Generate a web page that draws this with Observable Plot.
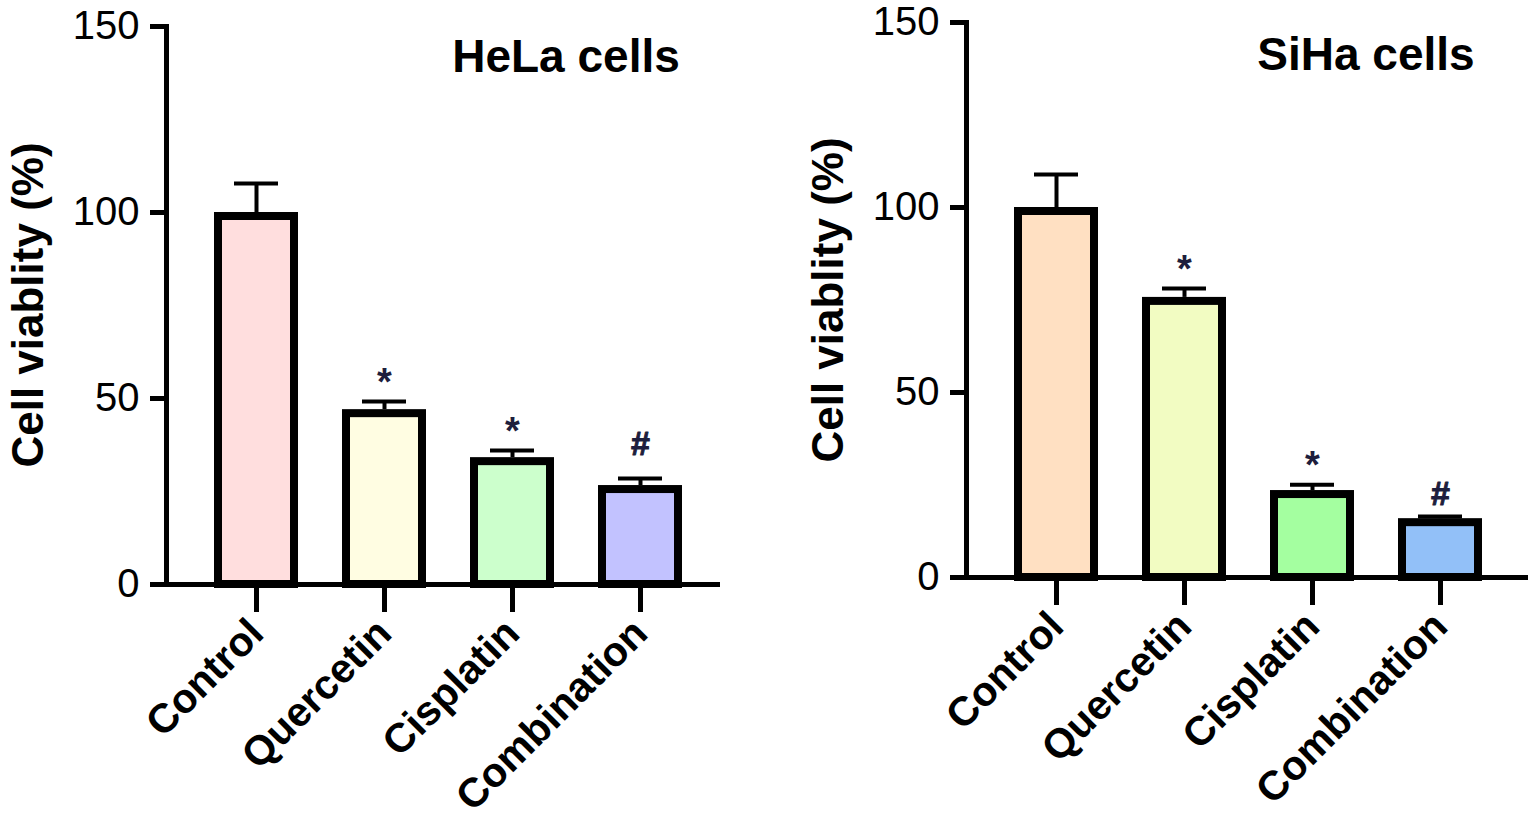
<!DOCTYPE html>
<html>
<head>
<meta charset="utf-8">
<script src="https://cdn.jsdelivr.net/npm/d3@7"></script>
<script src="https://cdn.jsdelivr.net/npm/@observablehq/plot@0.6"></script>
<style>
  html, body { margin: 0; padding: 0; background: #fff; }
  #wrap { position: relative; width: 1535px; height: 825px; overflow: hidden; font-family: 'Liberation Sans', Arial, sans-serif; }
  .panel { position: absolute; top: 0; }
  .title { position: absolute; font-weight: bold; font-size: 46px; line-height: 46px; white-space: nowrap; color: #000; transform: translateX(-50%); }
  .ylab { position: absolute; font-weight: bold; font-size: 44px; line-height: 44px; white-space: nowrap; color: #000; transform: translate(-50%, -50%) rotate(-90deg); }
</style>
</head>
<body>
<div id="wrap"></div>
<script>
// ---- data ----
const categories = ["Control", "Quercetin", "Cisplatin", "Combination"];
const helaMean = [100, 47.0, 34.1, 26.6];
const helaSD   = [7.8, 2.2, 1.9, 1.9];
const sihaMean = [100, 75.7, 23.5, 15.9];
const sihaSD   = [8.9, 2.4, 1.6, 0.6];
const notes    = ["", "*", "*", "#"];
const helaColors = ["#FFDEDE", "#FFFDE2", "#CCFFCC", "#C2C2FF"];
const sihaColors = ["#FFE0C2", "#F2FCC2", "#A4FFA0", "#92C0F8"];
const yTicks = [0, 50, 100, 150];
const yLabel = "Cell viablity (%)";
const titles = ["HeLa cells", "SiHa cells"];

function panel({means, sds, colors, width, marginLeft, marginRight, marginTop, marginBottom, hashDy}) {
  const data = categories.map((c, i) => ({cat: c, mean: means[i], err: means[i] + sds[i], color: colors[i], note: notes[i]}));
  return Plot.plot({
    width, height: 825, marginLeft, marginRight, marginTop, marginBottom,
    style: {fontFamily: "'Liberation Sans', Arial, sans-serif", background: "transparent", overflow: "visible", color: "#000"},
    x: {type: "band", domain: categories, range: [191.25, 705.25], paddingInner: 0.346, paddingOuter: 0.173, align: 0.5},
    y: {domain: [0, 150]},
    color: {type: "identity"},
    marks: [
      Plot.ruleX(data, {x: "cat", y1: "mean", y2: "err", stroke: "#000", strokeWidth: 4}),
      Plot.tickY(data, {x: "cat", y: "err", stroke: "#000", strokeWidth: 4, insetLeft: 20, insetRight: 20}),
      Plot.barY(data, {x: "cat", y: "mean", fill: "color", stroke: "#000", strokeWidth: 8, insetTop: 4, insetLeft: 4, insetRight: 4}),
      Plot.text(data.filter(d => d.note === "*"), {x: "cat", y: "err", text: "note", dy: -19, fontSize: 38, fontWeight: "bold", fill: "#1e1e3c"}),
      Plot.text(data.filter(d => d.note === "#"), {x: "cat", y: "err", text: "note", dy: hashDy, fontSize: 34, fontWeight: "bold", fill: "#1e1e3c", stroke: "#1e1e3c", strokeWidth: 1}),
      Plot.axisY({ticks: yTicks, tickSize: 16, tickPadding: 11, strokeWidth: 5, fontSize: 40, label: null}),
      Plot.axisX({tickSize: 28, tickPadding: 14, tickRotate: -45, strokeWidth: 5, fontSize: 41, fontWeight: "bold", label: null}),
      Plot.frame({anchor: "left", stroke: "#000", strokeWidth: 5}),
      Plot.ruleY([0], {stroke: "#000", strokeWidth: 5})
    ]
  });
}

const wrap = document.getElementById("wrap");

const left = panel({means: helaMean, sds: helaSD, colors: helaColors, width: 760, marginLeft: 166, marginRight: 40, marginTop: 26, marginBottom: 241, hashDy: -34});
left.classList.add("panel");
left.style.left = "0px";
wrap.appendChild(left);

const right = panel({means: sihaMean, sds: sihaSD, colors: sihaColors, width: 735, marginLeft: 166, marginRight: 7, marginTop: 22, marginBottom: 248, hashDy: -22});
right.classList.add("panel");
right.style.left = "800px";
wrap.appendChild(right);

function addDiv(cls, text, x, y) {
  const d = document.createElement("div");
  d.className = cls;
  d.textContent = text;
  d.style.left = x + "px";
  d.style.top = y + "px";
  wrap.appendChild(d);
}
addDiv("title", titles[0], 566, 33);
addDiv("title", titles[1], 1366, 31);
addDiv("ylab", yLabel, 28, 305);
addDiv("ylab", yLabel, 828, 300);
</script>
</body>
</html>
